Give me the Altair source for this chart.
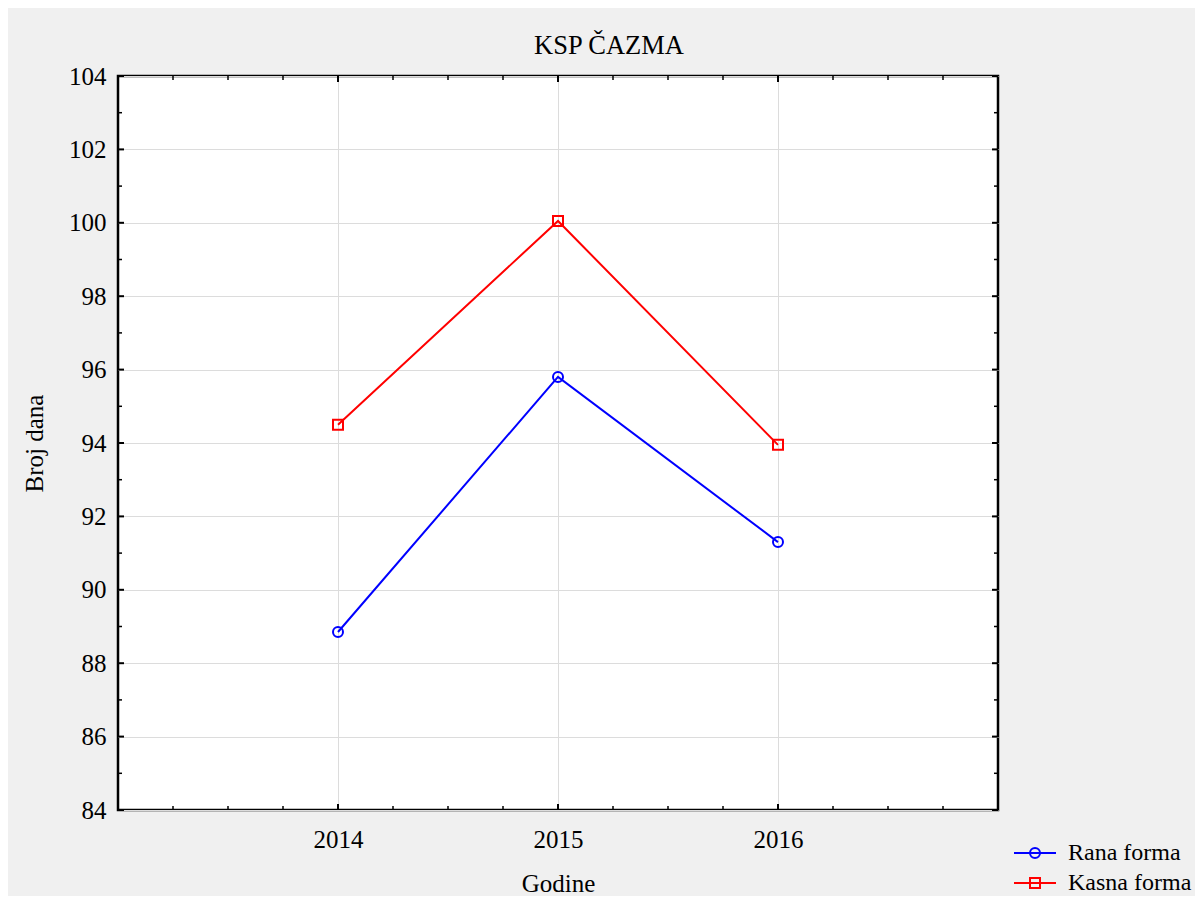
import altair as alt
import pandas as pd
import numpy as np

# ---- data ----
years = [2014, 2015, 2016]
rana = [88.85, 95.8, 91.3]
kasna = [94.5, 100.05, 93.95]
series_names = ["Rana forma", "Kasna forma"]
y_major = list(range(84, 105, 2))
y_minor = list(range(85, 104, 2))
x_major = [2014, 2015, 2016]
x_minor = [v for v in np.arange(2013.25, 2017.0, 0.25).tolist() if v not in x_major]

rows = []
for y, v in zip(years, rana):
    rows.append({"year": y, "value": v, "series": series_names[0]})
for y, v in zip(years, kasna):
    rows.append({"year": y, "value": v, "series": series_names[1]})
df = pd.DataFrame(rows)
df["series2"] = df["series"]

W, H = 880, 734
FONT = "Liberation Serif"
FS = 25
colors = ["#0000ff", "#ff0000"]
LX, LY, LOFF = 905, 765, 21

xscale = alt.Scale(domain=[2013, 2017], nice=False, zero=False)
yscale = alt.Scale(domain=[84, 104], nice=False, zero=False)

X = alt.X("year:Q", scale=xscale, title="Godine",
          axis=alt.Axis(values=x_major, format="d", grid=True, ticks=False, domain=False,
                        labelPadding=17, titlePadding=19))
Y = alt.Y("value:Q", scale=yscale, title="Broj dana",
          axis=alt.Axis(values=y_major, grid=True, ticks=False, domain=False,
                        labelPadding=12, titlePadding=21))

base = alt.Chart(df)

def leg(**kw):
    return alt.Legend(title=None, orient="none", legendX=LX, legendY=LY,
                      symbolSize=100, symbolStrokeWidth=2, labelOffset=LOFF, rowPadding=6,
                      padding=0, labelFont=FONT, labelFontSize=24, labelColor="black", **kw)

lines = base.mark_line(strokeWidth=2).encode(
    x=X, y=Y,
    color=alt.Color("series:N", scale=alt.Scale(domain=series_names, range=colors),
                    legend=leg(symbolType="M-4.2,0H4.2")),
    detail="series:N",
)

points = base.mark_point(filled=False, size=100, strokeWidth=2, opacity=1).encode(
    x="year:Q", y="value:Q",
    shape=alt.Shape("series2:N", scale=alt.Scale(domain=series_names, range=["circle", "square"]),
                    legend=leg(labelOpacity=0)),
    stroke=alt.Stroke("series2:N", scale=alt.Scale(domain=series_names, range=colors),
                      legend=leg(labelOpacity=0)),
)

ydf_major = pd.DataFrame({"v": y_major})
ydf_minor = pd.DataFrame({"v": y_minor})
xdf_major = pd.DataFrame({"v": x_major})
xdf_minor = pd.DataFrame({"v": x_minor})

def yticks(d, L, sw):
    left = alt.Chart(d).mark_rule(color="black", strokeWidth=sw).encode(
        y=alt.Y("v:Q", scale=yscale), x=alt.value(0), x2=alt.value(L))
    right = alt.Chart(d).mark_rule(color="black", strokeWidth=sw).encode(
        y=alt.Y("v:Q", scale=yscale), x=alt.value(W), x2=alt.value(W - L))
    return [left, right]

def xticks(d, L, sw):
    bottom = alt.Chart(d).mark_rule(color="black", strokeWidth=sw).encode(
        x=alt.X("v:Q", scale=xscale), y=alt.value(H), y2=alt.value(H - L))
    top = alt.Chart(d).mark_rule(color="black", strokeWidth=sw).encode(
        x=alt.X("v:Q", scale=xscale), y=alt.value(0), y2=alt.value(L))
    return [bottom, top]

tick_layers = yticks(ydf_major, 6, 2) + yticks(ydf_minor, 4, 1.5) + \
    xticks(xdf_major, 6, 2) + xticks(xdf_minor, 4, 1.5)

chart = alt.layer(lines, points, *tick_layers).resolve_scale(
    color="independent", stroke="independent", shape="independent"
).properties(
    width=W, height=H,
    title=alt.Title("KSP ČAZMA", font=FONT, fontSize=26.5, fontWeight="normal", color="black",
                    anchor="middle", offset=5, dx=51),
    autosize=alt.AutoSizeParams(type="none"),
    padding={"left": 110, "top": 68, "right": 197, "bottom": 86},
).configure(
    background="#f0f0f0",
).configure_view(
    fill="white", stroke="black", strokeWidth=2.5,
).configure_axis(
    labelFont=FONT, labelFontSize=FS, labelColor="black",
    titleFont=FONT, titleFontSize=FS, titleFontWeight="normal", titleColor="black",
    gridColor="#dcdcdc", gridWidth=1,
)

chart.save("out.html", embed_options={"renderer": "svg", "actions": False})
